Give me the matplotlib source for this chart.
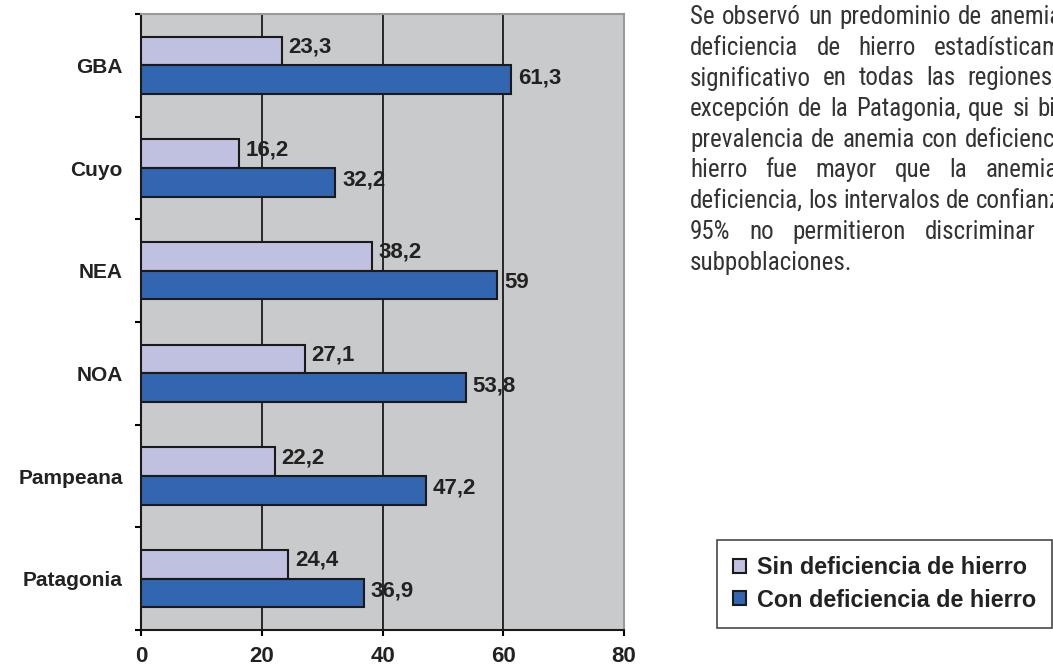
import matplotlib
matplotlib.use("Agg")
import matplotlib.pyplot as plt
from matplotlib import font_manager
import numpy as np

regiones = ["GBA", "Cuyo", "NEA", "NOA", "Pampeana", "Patagonia"]
sin_def = [23.3, 16.2, 38.2, 27.1, 22.2, 24.4]
con_def = [61.3, 32.2, 59, 53.8, 47.2, 36.9]
etiquetas_sin = ["23,3", "16,2", "38,2", "27,1", "22,2", "24,4"]
etiquetas_con = ["61,3", "32,2", "59", "53,8", "47,2", "36,9"]
x_ticks = [0, 20, 40, 60, 80]

texto = [
    "Se observó un predominio de anemia con",
    "deficiencia de hierro estadísticamente",
    "significativo en todas las regiones, con",
    "excepción de la Patagonia, que si bien la",
    "prevalencia de anemia con deficiencia de",
    "hierro fue mayor que la anemia sin",
    "deficiencia, los intervalos de confianza del",
    "95% no permitieron discriminar entre",
    "subpoblaciones.",
]

plt.rcParams['font.family'] = ['Liberation Sans', 'DejaVu Sans']

# fuente angosta para el texto, si existe
try:
    font_manager.findfont('Roboto Condensed', fallback_to_default=False)
    fam_texto, tam_texto = 'Roboto Condensed', 18
except ValueError:
    fam_texto, tam_texto = 'Roboto', 15.5

fig = plt.figure(figsize=(10.53, 6.68), dpi=100)
ax = fig.add_axes([0.1339, 0.0569, 0.4587, 0.9221])
ax.set_facecolor('#C9CACC')

y = np.arange(len(regiones))
h = 0.28
ax.barh(y - h / 2, sin_def, height=h, color='#C0C0E0', edgecolor='#1a1a1a',
        linewidth=1.5, label='Sin deficiencia de hierro', zorder=3)
ax.barh(y + h / 2, con_def, height=h, color='#3366B0', edgecolor='#1a1a1a',
        linewidth=1.5, label='Con deficiencia de hierro', zorder=3)

for i in range(len(regiones)):
    ax.text(sin_def[i] + 1.1, y[i] - h / 2 - 0.04, etiquetas_sin[i], fontsize=16,
            fontweight='bold', color='#222222', va='center', ha='left', zorder=4)
    ax.text(con_def[i] + 1.1, y[i] + h / 2 - 0.02, etiquetas_con[i], fontsize=16,
            fontweight='bold', color='#222222', va='center', ha='left', zorder=4)

ax.set_xlim(0, 80)
ax.set_ylim(len(regiones) - 0.5, -0.5)
ax.set_xticks(x_ticks)
ax.set_xticklabels([str(v) for v in x_ticks], fontsize=16, fontweight='bold',
                   color='#222222')
ax.set_yticks(np.arange(len(regiones) + 1) - 0.5)
ax.set_yticklabels([])
ax.set_yticks(y, minor=True)
ax.set_yticklabels(regiones, minor=True, fontsize=15, fontweight='bold',
                   color='#222222')
ax.tick_params(axis='y', which='minor', length=0, pad=13)
ax.tick_params(axis='y', which='major', length=4.5, width=1.5, direction='out')
ax.tick_params(axis='x', length=4.5, width=1.5, direction='out', pad=7)

ax.grid(axis='x', color='#1a1a1a', linewidth=1.3, zorder=1)
ax.set_axisbelow(True)
for s in ['left', 'bottom']:
    ax.spines[s].set_linewidth(1.5)
    ax.spines[s].set_color('#1a1a1a')
for s in ['top', 'right']:
    ax.spines[s].set_color('#9A9A9A')
    ax.spines[s].set_linewidth(1.5)

# bloque de texto justificado a la derecha (se corta en el borde)
rend = fig.canvas.get_renderer()
x0, x1 = 690, 1105
for k, linea in enumerate(texto):
    yy = 1 - (17 + 30.7 * k) / 668
    palabras = linea.split()
    objs = [fig.text(0, yy, p, fontsize=tam_texto, family=[fam_texto, 'DejaVu Sans'],
                     color='#333333', va='center', ha='left') for p in palabras]
    anchos = [o.get_window_extent(rend).width for o in objs]
    hueco = tam_texto * 0.3
    if k < len(texto) - 1 and len(palabras) > 1:
        hueco = max(hueco, (x1 - x0 - sum(anchos)) / (len(palabras) - 1))
    pos = x0
    for o, w in zip(objs, anchos):
        o.set_x(pos / 1053)
        pos += w + hueco

leg = fig.legend(loc='lower left', bbox_to_anchor=(717 / 1053, 1 - 628 / 668),
                 frameon=True, fancybox=False, edgecolor='#1a1a1a',
                 handlelength=0.55, handleheight=0.55, handletextpad=0.45,
                 borderpad=0.7, labelspacing=0.4, borderaxespad=0,
                 prop={'size': 16.8, 'weight': 'bold'})
leg.get_frame().set_linewidth(1.2)
for t in leg.get_texts():
    t.set_color('#222222')

fig.savefig('out.png', dpi=100)
